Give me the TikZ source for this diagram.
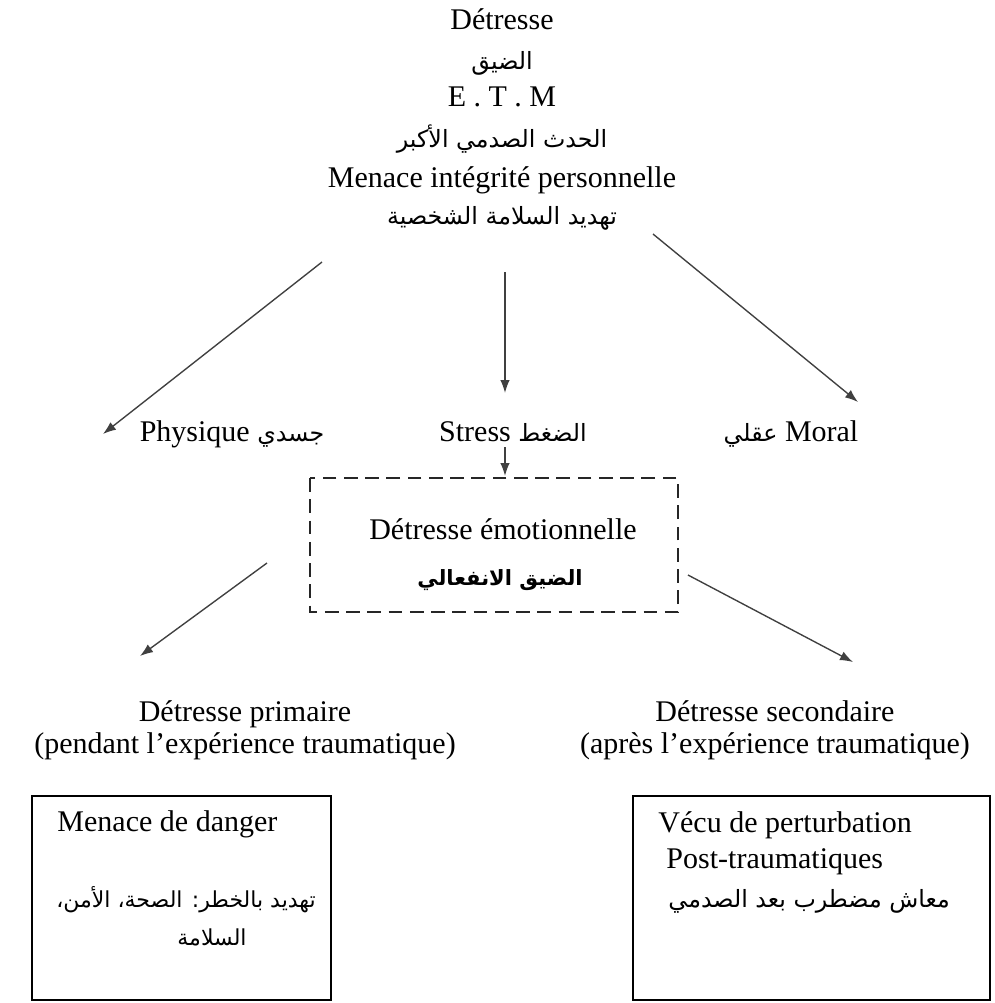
\documentclass[tikz,border=0pt]{standalone}
\usepackage{fontspec}
\setmainfont{Liberation Serif}
\newfontfamily\arfont[Script=Arabic]{DejaVu Sans}
\TeXXeTstate=1
\usetikzlibrary{arrows.meta}
\newcommand{\AR}[1]{{\arfont\fontsize{9.5}{11}\selectfont\beginR #1\endR}}
\newcommand{\ARS}[1]{{\arfont\fontsize{8.8}{11}\selectfont\beginR #1\endR}}
\newcommand{\ARB}[1]{{\arfont\bfseries\fontsize{8.4}{10}\selectfont\beginR #1\endR}}
\tikzset{
  txt/.style={inner sep=0pt, text height=8.4pt, text depth=2.6pt, font=\fontsize{12}{14}\selectfont},
  arr/.style={draw=black!75, line width=0.55pt, -{Latex[length=5.2pt,width=3.8pt]}},
  solidbox/.style={draw=black, line width=0.8pt},
  dashbox/.style={draw=black!85, line width=1pt, dash pattern=on 5.5pt off 3pt}
}
\begin{document}
\begin{tikzpicture}[x=0.4pt,y=-0.4pt]
\useasboundingbox (0,0) rectangle (995,1003);
% top block
\node[txt] (t1) at (502,22) {Détresse};
\node[txt] (t2) at (502,62) {\AR{الضيق}};
\node[txt] (t3) at (502,99) {E . T . M};
\node[txt] (t4) at (502,140) {\AR{الحدث الصدمي الأكبر}};
\node[txt] (t5) at (502,180) {Menace intégrité personnelle};
\node[txt] (t6) at (502,217) {\AR{تهديد السلامة الشخصية}};
% second row
\node[txt] (phy) at (232,434) {Physique \AR{جسدي}};
\node[txt] (str) at (513,434) {Stress \AR{الضغط}};
\node[txt] (mor) at (791,434) {\AR{عقلي} Moral};
% arrows top
\coordinate (a1s) at (322,262); \coordinate (a1e) at (103,434);
\coordinate (a2s) at (505,272); \coordinate (a2e) at (505,393);
\coordinate (a3s) at (653,234); \coordinate (a3e) at (858,402);
\draw[arr] (a1s) -- (a1e);
\draw[arr] (a2s) -- (a2e);
\draw[arr] (a3s) -- (a3e);
% dashed box
\draw[dashbox] (310,478) rectangle (678,612);
\node[txt] (emo1) at (503,532) {Détresse émotionnelle};
\node[txt] (emo2) at (500,578) {\ARB{الضيق الانفعالي}};
\coordinate (a4s) at (505,447); \coordinate (a4e) at (505,476);
\draw[arr] (a4s) -- (a4e);
% lower arrows
\coordinate (a5s) at (267,563); \coordinate (a5e) at (140,656);
\coordinate (a6s) at (688,575); \coordinate (a6e) at (853,662);
\draw[arr] (a5s) -- (a5e);
\draw[arr] (a6s) -- (a6e);
% lower labels
\node[txt] (p1) at (245,714) {Détresse primaire};
\node[txt] (p2) at (245,746) {(pendant l’expérience traumatique)};
\node[txt] (s1) at (775,714) {Détresse secondaire};
\node[txt] (s2) at (775,746) {(après l’expérience traumatique)};
% bottom boxes
\draw[solidbox] (32,796) rectangle (331,1000);
\draw[solidbox] (633,796) rectangle (990,1000);
\node[txt, anchor=west] (l1) at (57,824) {Menace de danger};
\node[txt] (l2) at (186,900) {\ARS{تهديد بالخطر: الصحة، الأمن،}};
\node[txt] (l3) at (212,938) {\ARS{السلامة}};
\node[txt, anchor=west] (r1) at (658,825) {Vécu de perturbation};
\node[txt, anchor=west] (r2) at (666,861) {Post-traumatiques};
\node[txt, anchor=west] (r3) at (668,900) {\AR{معاش مضطرب بعد الصدمي}};
\end{tikzpicture}
\end{document}
